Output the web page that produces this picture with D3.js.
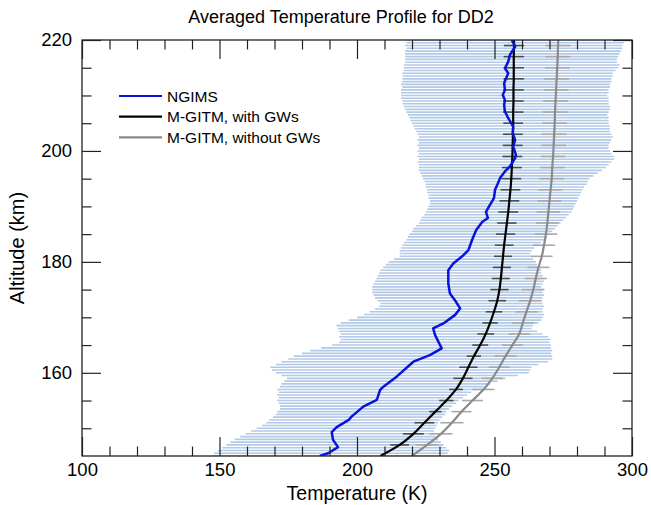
<!DOCTYPE html>
<html>
<head>
<meta charset="utf-8">
<script src="https://cdn.jsdelivr.net/npm/d3@7"></script>
<style>
  html, body { margin: 0; padding: 0; background: #fff; }
  svg { display: block; font-family: "Liberation Sans", Arial, Helvetica, sans-serif; }
</style>
</head>
<body>
<svg id="chart" width="651" height="505"></svg>
<script>
// ---------------- DATA ----------------
const title = "Averaged Temperature Profile for DD2";
const xLabel = "Temperature (K)";
const yLabel = "Altitude (km)";
const xMajorTicks = [100, 150, 200, 250, 300];
const xMinorTicks = [110, 120, 130, 140, 160, 170, 180, 190, 210, 220, 230, 240, 260, 270, 280, 290];
const yMajorTicks = [160, 180, 200, 220];
const yMinorTicks = [150, 155, 165, 170, 175, 185, 190, 195, 205, 210, 215];
const legendLabels = ["NGIMS", "M-GITM, with GWs", "M-GITM, without GWs"];

// NGIMS mean profile
const ngimsAlt = [145.0,145.5,146.6,147.9,149.3,150.2,151.5,152.1,153.9,155.1,156.9,157.5,159.3,162.0,163.2,164.4,166.8,168.0,168.9,170.4,
  171.6,173.1,174.3,176.1,178.5,179.7,181.2,182.1,183.9,185.7,187.2,187.9,189.0,190.3,191.5,193.0,194.2,195.1,196.3,197.2,
  198.7,199.3,200.8,202.0,203.2,204.4,205.9,207.1,208.3,209.2,210.1,211.0,212.2,213.1,214.0,214.9,216.1,217.3,218.8,220.0];
const ngimsTemp = [186.5,189.5,193.1,191.3,190.8,192.6,197.0,198.0,202.3,207.2,208.4,209.6,214.4,220.5,226.5,230.8,228.4,227.7,231.4,235.6,
  237.5,235.6,233.8,233.2,233.2,235.0,238.7,240.5,241.8,243.3,245.5,247.6,246.9,248.4,249.8,250.2,251.3,252.0,253.8,255.6,
  257.5,257.8,256.8,257.5,256.6,256.8,255.0,253.8,253.5,253.8,253.0,253.8,253.5,254.2,255.0,253.8,255.0,255.6,257.5,256.3];

// NGIMS spread (bars every 0.5 km from 145 to 220 km)
const ngimsLow = [
  147.5,148.0,149.5,151.0,152.5,154.0,155.5,157.5,159.5,161.5,
  163.5,165.5,167.0,168.0,169.5,170.5,171.0,172.0,172.0,171.5,
  171.0,171.5,171.0,171.5,171.0,172.0,172.5,173.5,174.5,172.5,
  170.5,169.0,168.5,170.5,172.5,175.0,177.0,180.0,183.0,187.0,
  191.0,193.5,194.0,193.5,194.0,193.5,193.0,192.5,194.0,197.0,
  200.0,202.5,204.5,206.5,208.0,208.5,207.5,206.5,206.0,205.5,
  205.5,205.5,206.0,206.5,207.0,207.5,208.0,208.5,209.5,210.5,
  211.5,213.5,215.5,215.5,215.5,216.0,216.5,217.0,218.0,218.5,
  219.0,220.0,220.5,221.5,222.5,223.0,223.5,224.5,225.0,225.5,
  226.0,226.5,226.5,226.0,226.0,225.5,225.5,225.0,225.0,224.5,
  224.0,223.5,223.0,222.5,222.5,222.5,222.0,222.5,222.0,222.5,
  222.0,222.5,222.0,222.5,222.0,222.5,222.0,221.5,221.0,220.5,
  220.0,219.5,219.0,218.5,218.0,217.5,217.0,216.5,216.5,216.0,
  216.0,216.0,216.0,216.5,216.0,216.5,216.5,216.5,216.5,217.0,
  217.0,217.0,217.5,217.5,217.5,217.5,217.5,218.0,217.5,218.0,
  218.0];
const ngimsHigh = [
  230.0,233.0,233.5,232.5,231.5,230.5,229.5,228.5,228.0,228.0,
  228.5,229.0,229.5,230.0,231.0,232.0,232.5,233.5,234.5,236.0,
  237.0,238.5,240.0,241.5,243.5,246.0,248.5,251.0,254.0,258.5,
  262.5,263.0,263.5,266.0,269.5,271.0,271.0,270.5,271.0,270.5,
  270.5,270.0,270.5,269.5,267.5,265.5,263.5,264.0,266.0,267.0,
  267.5,268.0,267.5,267.5,268.0,267.5,267.0,267.5,268.0,267.5,
  267.5,267.0,267.5,268.0,267.5,267.5,267.0,267.0,266.0,265.5,
  265.0,264.0,263.5,263.0,263.5,264.5,266.0,267.0,268.0,269.0,
  270.0,271.0,272.0,273.0,274.0,275.0,276.0,277.0,278.0,278.5,
  279.0,279.5,280.0,280.5,281.0,281.5,282.0,282.5,283.5,284.0,
  284.5,286.0,287.5,289.0,290.5,291.5,292.5,293.5,293.5,292.5,
  292.0,291.5,291.5,292.0,292.5,293.0,292.5,292.0,292.0,292.0,
  291.5,291.5,291.5,291.0,291.5,292.0,292.0,291.5,291.5,291.5,
  291.0,291.5,291.5,292.0,292.0,292.5,292.5,293.0,293.0,294.0,
  295.0,295.5,294.5,294.5,295.0,295.5,296.0,296.5,296.5,297.0,
  296.5];

// Model profiles (every 2 km)
const modelAlt = [145,147,149,151,153,155,157,159,161,163,165,167,169,171,173,175,177,179,181,183,
  185,187,189,191,193,195,197,199,201,203,205,207,209,211,213,215,217,219,220];
const withGWs = [208.5,215.5,220.5,224.5,228.5,232.5,236.0,238.5,240.5,242.5,244.8,246.8,248.4,249.8,251.0,251.8,252.3,252.7,253.1,253.5,
  254.0,254.5,255.0,255.4,255.8,256.1,256.3,256.5,256.6,256.7,256.8,256.8,256.9,256.9,257.0,257.0,257.0,257.1,257.1];
const withoutGWs = [219.9,225.5,230.5,234.5,238.0,242.0,246.0,249.2,251.7,254.0,256.5,259.0,260.3,261.6,263.0,264.1,265.0,266.0,267.2,268.0,
  268.7,269.2,269.6,270.0,270.4,270.8,271.0,271.3,271.5,271.7,271.9,272.0,272.2,272.4,272.6,272.8,273.0,273.1,273.2];
// Model variability (half widths of the horizontal bars, K); null = no bar
const withGWsErr = [null,3.4,3.8,3.6,2.2,2.6,2.5,3.5,3.3,2.6,2.9,3.0,2.8,3.0,3.2,3.3,3.3,3.3,3.3,3.4,
  3.5,3.5,3.6,3.6,3.6,3.6,3.6,3.6,3.6,3.6,3.6,3.7,3.7,3.7,3.7,3.7,3.7,3.7,null];
const withoutGWsErr = [null,4.2,4.2,4.2,3.6,3.8,4.0,3.8,3.8,4.0,3.8,3.9,4.0,4.1,4.2,4.1,4.0,4.0,3.9,4.0,
  4.1,4.2,4.3,4.3,4.4,4.5,4.5,4.5,4.5,4.5,4.5,4.5,4.5,4.5,4.5,4.5,4.5,4.5,null];

// ---------------- CHART ----------------
const svg = d3.select("#chart");
const m = { left: 82, right: 632, top: 40, bottom: 456 };
const x = d3.scaleLinear().domain([100, 300]).range([m.left, m.right]);
const y = d3.scaleLinear().domain([145, 220]).range([m.bottom, m.top]);
const barAlt = d3.range(0, ngimsLow.length).map(i => 145 + i * 0.5);

svg.append("defs").append("clipPath").attr("id", "clip")
  .append("rect").attr("x", m.left).attr("y", m.top)
  .attr("width", m.right - m.left).attr("height", m.bottom - m.top);

const plot = svg.append("g").attr("clip-path", "url(#clip)");

// NGIMS spread bars
plot.append("g").selectAll("line").data(barAlt).join("line")
  .attr("x1", (d, i) => x(ngimsLow[i])).attr("x2", (d, i) => x(ngimsHigh[i]))
  .attr("y1", d => y(d)).attr("y2", d => y(d))
  .attr("stroke", "#b3c9e8").attr("stroke-width", 1.6);

// Model bars
function modelBars(vals, errs, color) {
  const idx = d3.range(modelAlt.length).filter(i => errs[i] != null);
  plot.append("g").selectAll("line").data(idx).join("line")
    .attr("x1", i => x(vals[i] - errs[i])).attr("x2", i => x(vals[i] + errs[i]))
    .attr("y1", i => y(modelAlt[i])).attr("y2", i => y(modelAlt[i]))
    .attr("stroke", color).attr("stroke-width", 1.6);
}
modelBars(withoutGWs, withoutGWsErr, "#a8a8a8");
modelBars(withGWs, withGWsErr, "#3e5050");

// Lines
const lineModel = d3.line().x(d => x(d[1])).y(d => y(d[0])).curve(d3.curveMonotoneY);
plot.append("path").datum(modelAlt.map((a, i) => [a, withoutGWs[i]]))
  .attr("d", lineModel).attr("fill", "none").attr("stroke", "#8a8a8a").attr("stroke-width", 2.2);
plot.append("path").datum(modelAlt.map((a, i) => [a, withGWs[i]]))
  .attr("d", lineModel).attr("fill", "none").attr("stroke", "#000").attr("stroke-width", 2.2);
const lineN = d3.line().x(d => x(d[1])).y(d => y(d[0]));
plot.append("path").datum(ngimsAlt.map((a, i) => [a, ngimsTemp[i]]))
  .attr("d", lineN).attr("fill", "none").attr("stroke", "#0a14d8").attr("stroke-width", 2.5)
  .attr("stroke-linejoin", "round");

// Axes (ticks on all four sides)
const axisColor = "#222";
function styleAxis(g) {
  g.select(".domain").remove();
  g.selectAll(".tick line").attr("stroke", axisColor).attr("stroke-width", 1.2);
  g.selectAll("text").attr("fill", "#000").style("font-size", "18.5px")
    .style("font-family", "'Liberation Sans', Arial, Helvetica, sans-serif");
}
const MAJ = 19, MIN = 9.5;
svg.append("g").attr("transform", `translate(0,${m.bottom})`)
  .call(d3.axisBottom(x).tickValues(xMajorTicks).tickSize(-MAJ).tickPadding(7).tickFormat(d3.format("d"))).call(styleAxis);
svg.append("g").attr("transform", `translate(0,${m.bottom})`)
  .call(d3.axisBottom(x).tickValues(xMinorTicks).tickSize(-MIN).tickFormat("")).call(styleAxis);
svg.append("g").attr("transform", `translate(0,${m.top})`)
  .call(d3.axisTop(x).tickValues(xMajorTicks).tickSize(-MAJ).tickFormat("")).call(styleAxis);
svg.append("g").attr("transform", `translate(0,${m.top})`)
  .call(d3.axisTop(x).tickValues(xMinorTicks).tickSize(-MIN).tickFormat("")).call(styleAxis);
svg.append("g").attr("transform", `translate(${m.left},0)`)
  .call(d3.axisLeft(y).tickValues(yMajorTicks).tickSize(-MAJ).tickPadding(10).tickFormat(d3.format("d"))).call(styleAxis);
svg.append("g").attr("transform", `translate(${m.left},0)`)
  .call(d3.axisLeft(y).tickValues(yMinorTicks).tickSize(-MIN).tickFormat("")).call(styleAxis);
svg.append("g").attr("transform", `translate(${m.right},0)`)
  .call(d3.axisRight(y).tickValues(yMajorTicks).tickSize(-MAJ).tickFormat("")).call(styleAxis);
svg.append("g").attr("transform", `translate(${m.right},0)`)
  .call(d3.axisRight(y).tickValues(yMinorTicks).tickSize(-MIN).tickFormat("")).call(styleAxis);

// Frame
svg.append("rect").attr("x", m.left).attr("y", m.top)
  .attr("width", m.right - m.left).attr("height", m.bottom - m.top)
  .attr("fill", "none").attr("stroke", axisColor).attr("stroke-width", 1.3);

// Titles
svg.append("text").attr("x", 341).attr("y", 23).attr("text-anchor", "middle")
  .style("font-size", "18px").attr("fill", "#000").text(title);
svg.append("text").attr("x", (m.left + m.right) / 2).attr("y", 500).attr("text-anchor", "middle")
  .style("font-size", "19.5px").attr("fill", "#000").text(xLabel);
svg.append("text").attr("transform", `translate(24,${(m.top + m.bottom) / 2}) rotate(-90)`)
  .attr("text-anchor", "middle").style("font-size", "20px").attr("fill", "#000").text(yLabel);

// Legend
const legendColors = ["#0a14d8", "#000", "#8a8a8a"];
const lg = svg.append("g");
legendLabels.forEach((lab, i) => {
  const ly = 96 + i * 20.7;
  lg.append("line").attr("x1", 119).attr("x2", 162).attr("y1", ly).attr("y2", ly)
    .attr("stroke", legendColors[i]).attr("stroke-width", 2.2);
  lg.append("text").attr("x", 167).attr("y", ly + 5.5).style("font-size", "15.5px")
    .attr("fill", "#000").text(lab);
});
</script>
</body>
</html>
